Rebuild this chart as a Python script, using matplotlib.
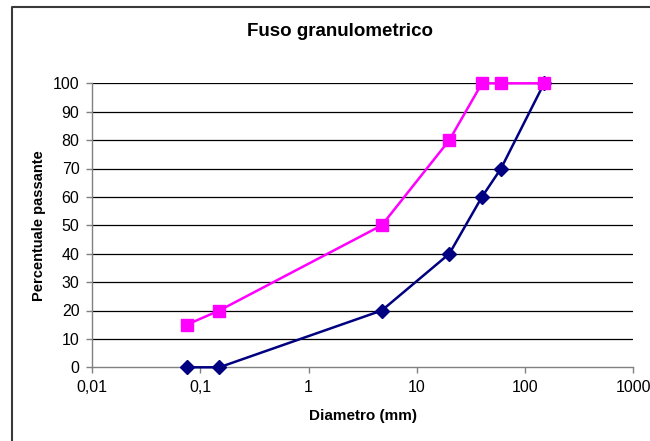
import matplotlib.pyplot as plt
from matplotlib.lines import Line2D
from matplotlib.ticker import FixedLocator, NullLocator

plt.rcParams['font.family'] = ['Liberation Sans', 'DejaVu Sans']

# Diameters (mm) and passing percentages
diametro = [0.075, 0.15, 4.75, 20, 40, 60, 150]
fuso_inf = [0, 0, 20, 40, 60, 70, 100]
fuso_sup = [15, 20, 50, 80, 100, 100, 100]

x_ticks = [0.01, 0.1, 1, 10, 100, 1000]
x_tick_labels = ['0,01', '0,1', '1', '10', '100', '1000']
y_ticks = list(range(0, 101, 10))

fig = plt.figure(figsize=(6.5, 4.41), dpi=100)
ax = fig.add_axes([92 / 650, 1 - 367.3 / 441, (633.3 - 92) / 650, (367.3 - 83.3) / 441])

ax.plot(diametro, fuso_inf, color='#000080', lw=1.8, marker='D', markersize=7.5,
        zorder=3, clip_on=False)
ax.plot(diametro, fuso_sup, color='#ff00ff', lw=1.8, marker='s', markersize=8.5,
        zorder=3, clip_on=False)

ax.set_xscale('log')
ax.set_xlim(0.01, 1000)
ax.set_ylim(0, 100)
ax.xaxis.set_major_locator(FixedLocator(x_ticks))
ax.xaxis.set_minor_locator(NullLocator())
ax.set_xticklabels(x_tick_labels)
ax.set_yticks(y_ticks)

for y in y_ticks[1:]:
    ax.axhline(y, color='black', lw=0.9, zorder=1)

for side in ['top', 'right']:
    ax.spines[side].set_visible(False)
for side in ['left', 'bottom']:
    ax.spines[side].set_color('#808080')
    ax.spines[side].set_linewidth(1.0)

ax.tick_params(axis='both', direction='out', length=4, width=1.0, color='#808080',
               labelsize=11.5, labelcolor='black', pad=5)

ax.set_xlabel('Diametro (mm)', fontsize=11, fontweight='bold', labelpad=10)
ax.set_ylabel('Percentuale passante', fontsize=10.5, fontweight='bold', labelpad=5)
fig.text(340 / 650, 1 - 32 / 441, 'Fuso granulometrico', fontsize=13.5, fontweight='bold',
         ha='center', va='center')

# outer chart frame (only top and left edges are visible)
fx = 12 / 650
fy = 1 - 7 / 441
fig.add_artist(Line2D([fx, fx, 1.05], [-0.05, fy, fy], transform=fig.transFigure,
                      color='#3a3a3a', lw=1.5))

fig.savefig('out.png', dpi=100)
